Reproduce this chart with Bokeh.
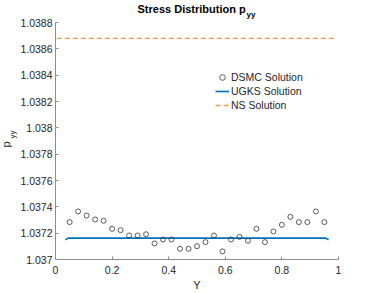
from bokeh.plotting import figure
from bokeh.models import Range1d, FixedTicker, CustomJSTickFormatter, Title, Legend, LegendItem
from bokeh.embed import file_html
from bokeh.resources import INLINE

# ---- data ----
dsmc_y = [0.05, 0.08, 0.11, 0.14, 0.17, 0.20, 0.23, 0.26, 0.29, 0.32, 0.35, 0.38, 0.41,
          0.44, 0.47, 0.50, 0.53, 0.56, 0.59, 0.62, 0.65, 0.68, 0.71, 0.74, 0.77, 0.80,
          0.83, 0.86, 0.89, 0.92, 0.95]
dsmc_p = [1.037284, 1.037365, 1.037334, 1.037304, 1.037294, 1.037233, 1.037223, 1.037182,
          1.037182, 1.037192, 1.037122, 1.037152, 1.037152, 1.037081, 1.037081, 1.037101,
          1.037132, 1.037182, 1.037061, 1.037152, 1.037172, 1.037142, 1.037233, 1.037132,
          1.037213, 1.037263, 1.037324, 1.037284, 1.037284, 1.037365, 1.037284]
ugks_y = [0.035, 0.045, 0.5, 0.955, 0.965]
ugks_p = [1.037150, 1.037162, 1.037163, 1.037162, 1.037150]
ns_y = [0.005, 0.995]
ns_p = [1.038679, 1.038679]
x_ticks = [0, 0.2, 0.4, 0.6, 0.8, 1]
y_ticks = [1.037, 1.0372, 1.0374, 1.0376, 1.0378, 1.038, 1.0382, 1.0384, 1.0386, 1.0388]

FONT = "Liberation Sans"
TXT = "#262626"
AX = "#8c8c8c"

p = figure(width=374, height=293, output_backend="svg", toolbar_location=None,
           x_range=Range1d(0, 1), y_range=Range1d(1.037, 1.0388),
           min_border_left=55, min_border_right=36, min_border_top=22, min_border_bottom=34)
p.outline_line_color = None
p.background_fill_color = "white"
p.border_fill_color = "white"
p.grid.visible = False

for ax in (p.xaxis[0], p.yaxis[0]):
    ax.axis_line_color = AX
    ax.major_tick_line_color = AX
    ax.major_tick_in = 3
    ax.major_tick_out = 0
    ax.minor_tick_line_color = None
    ax.major_label_text_font = FONT
    ax.major_label_text_font_size = "10.5px"
    ax.major_label_text_color = TXT
p.yaxis.major_label_standoff = 3
p.xaxis.major_label_standoff = 6

p.xaxis.ticker = FixedTicker(ticks=x_ticks)
p.yaxis.ticker = FixedTicker(ticks=y_ticks)
p.yaxis.formatter = CustomJSTickFormatter(code="return tick.toFixed(4).replace(/0+$/, '');")
p.xaxis.formatter = CustomJSTickFormatter(code="return (Math.round(tick*10)/10).toString();")

p.xaxis.axis_label = "Y"
p.xaxis.axis_label_text_font = FONT
p.xaxis.axis_label_text_font_size = "11px"
p.xaxis.axis_label_text_font_style = "normal"
p.xaxis.axis_label_text_color = TXT
p.xaxis.axis_label_standoff = 2

r_ns = p.line(ns_y, ns_p, line_color="#EDA03A", line_width=1.3, line_dash="5 3")
r_ugks = p.line(ugks_y, ugks_p, line_color="#0072BD", line_width=1.6)
r_dsmc = p.scatter(dsmc_y, dsmc_p, marker="circle", size=5, fill_color=None,
                   line_color="#333333", line_width=0.8)

legend = Legend(items=[LegendItem(label="DSMC Solution", renderers=[r_dsmc]),
                       LegendItem(label="UGKS Solution", renderers=[r_ugks]),
                       LegendItem(label="NS Solution", renderers=[r_ns])],
                location=(160, 147), padding=0, margin=0, spacing=0,
                glyph_width=14, glyph_height=14, label_height=14, label_standoff=2,
                label_text_font=FONT, label_text_font_size="10.5px", label_text_color=TXT,
                border_line_alpha=0, background_fill_alpha=0)
p.add_layout(legend)

def title(text, side, size, offset, standoff, valign, bold=False):
    p.add_layout(Title(text=text, align="left", offset=offset, standoff=standoff,
                       vertical_align=valign, text_font=FONT, text_font_size=size,
                       text_font_style="bold" if bold else "normal",
                       text_color="black" if bold else TXT), side)

# title (subscript first: nearest the frame)
title("yy", "above", "8px", 191, 1.7, "top", bold=True)
title("Stress Distribution p", "above", "11px", 82, -10.8, "bottom", bold=True)
# y label
title("yy", "left", "8px", 121, -2, "top")
title("p", "left", "11px", 112, -7.8, "bottom")

open("out.html", "w").write(file_html(p, INLINE))
